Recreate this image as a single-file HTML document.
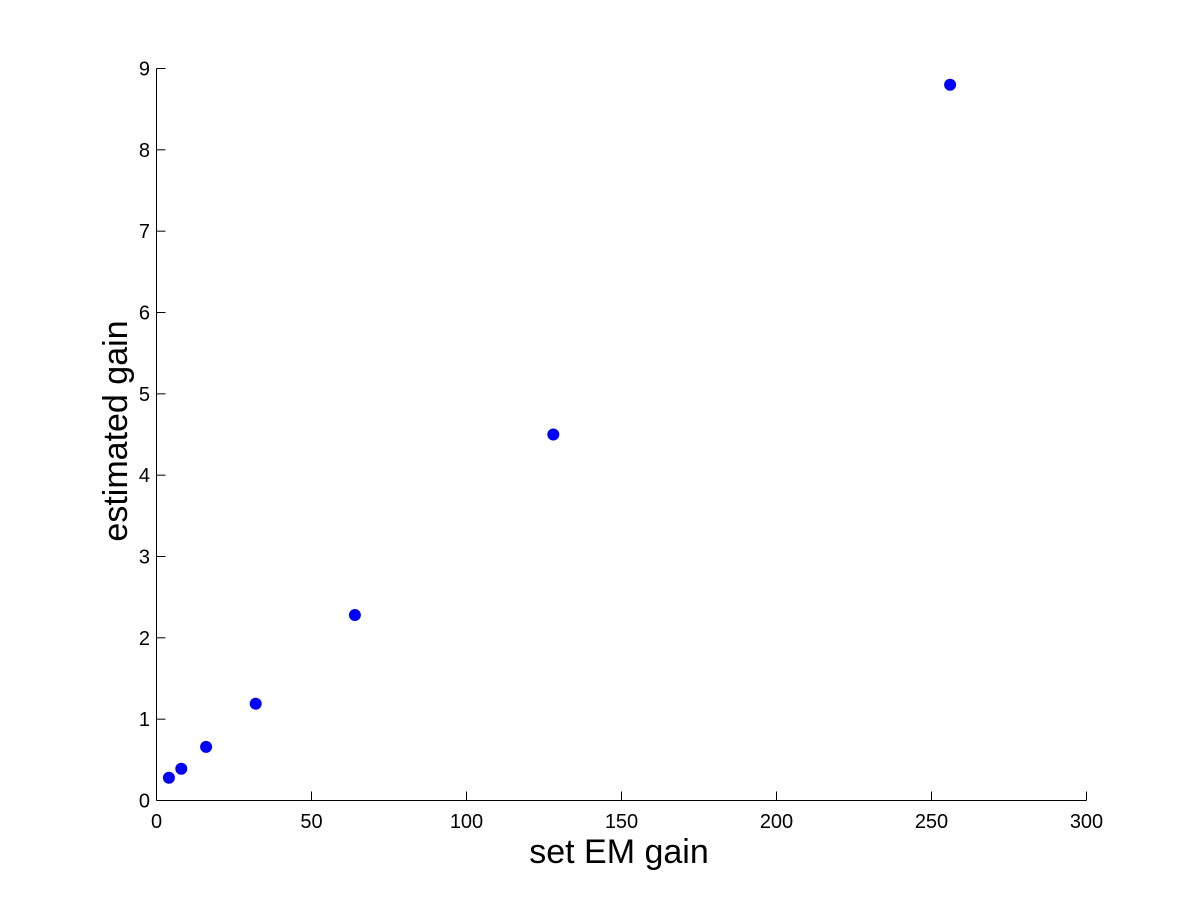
<!DOCTYPE html>
<html><head><meta charset="utf-8"><style>
html,body{margin:0;padding:0;background:#fff;}
svg text{font-family:"Liberation Sans",Arial,sans-serif;fill:#000;}
</style></head><body>
<svg id="chart" width="1200" height="900" xmlns="http://www.w3.org/2000/svg">
<rect width="1200" height="900" fill="#fff"/>
<g id="axes"></g>
<g id="marks"></g>
<text x="619" y="863" font-size="34" text-anchor="middle">set EM gain</text>
<text transform="translate(127,431) rotate(-90)" font-size="34" text-anchor="middle">estimated gain</text>
</svg>
<script>
const xValues=[4,8,16,32,64,128,256];
const yValues=[0.28,0.39,0.66,1.19,2.28,4.5,8.8];
const xTicks=[0,50,100,150,200,250,300];
const yTicks=[0,1,2,3,4,5,6,7,8,9];
const X0=156.5,X1=1086.5,Y0=800.5,Y1=68.5;
const xs=v=>X0+(v-0)/(300-0)*(X1-X0);
const ys=v=>Y0-(v-0)/(9-0)*(Y0-Y1);
const NS="http://www.w3.org/2000/svg";
const axes=document.getElementById('axes'),marks=document.getElementById('marks');
function mk(t,a,p){const e=document.createElementNS(NS,t);for(const k in a)e.setAttribute(k,a[k]);p.appendChild(e);return e;}
let xa=mk('line',{x1:X0,y1:Y0,x2:X1,y2:Y0,stroke:'#000','stroke-width':1},axes);


let ya=mk('line',{x1:X0,y1:Y0,x2:X0,y2:Y1,stroke:'#000','stroke-width':1},axes);


xTicks.forEach(v=>{
 let t=mk('line',{x1:xs(v),y1:Y0,x2:xs(v),y2:Y0-9,stroke:'#000'},axes);
 
 
 let l=mk('text',{x:xs(v),y:828,'font-size':20,'text-anchor':'middle'},axes);
 l.textContent=v;
 
 
});
yTicks.forEach(v=>{
 let t=mk('line',{x1:X0,y1:ys(v),x2:X0+9,y2:ys(v),stroke:'#000'},axes);
 
 
 let l=mk('text',{x:150,y:ys(v)+7,'font-size':20,'text-anchor':'end'},axes);
 l.textContent=v;
 
 
});
xValues.forEach((v,i)=>{
 let c=mk('circle',{cx:xs(v),cy:ys(yValues[i]),r:5.5,fill:'#0000ff',stroke:'#0000ee','stroke-width':1},marks);
 
 
});
</script>
</body></html>
